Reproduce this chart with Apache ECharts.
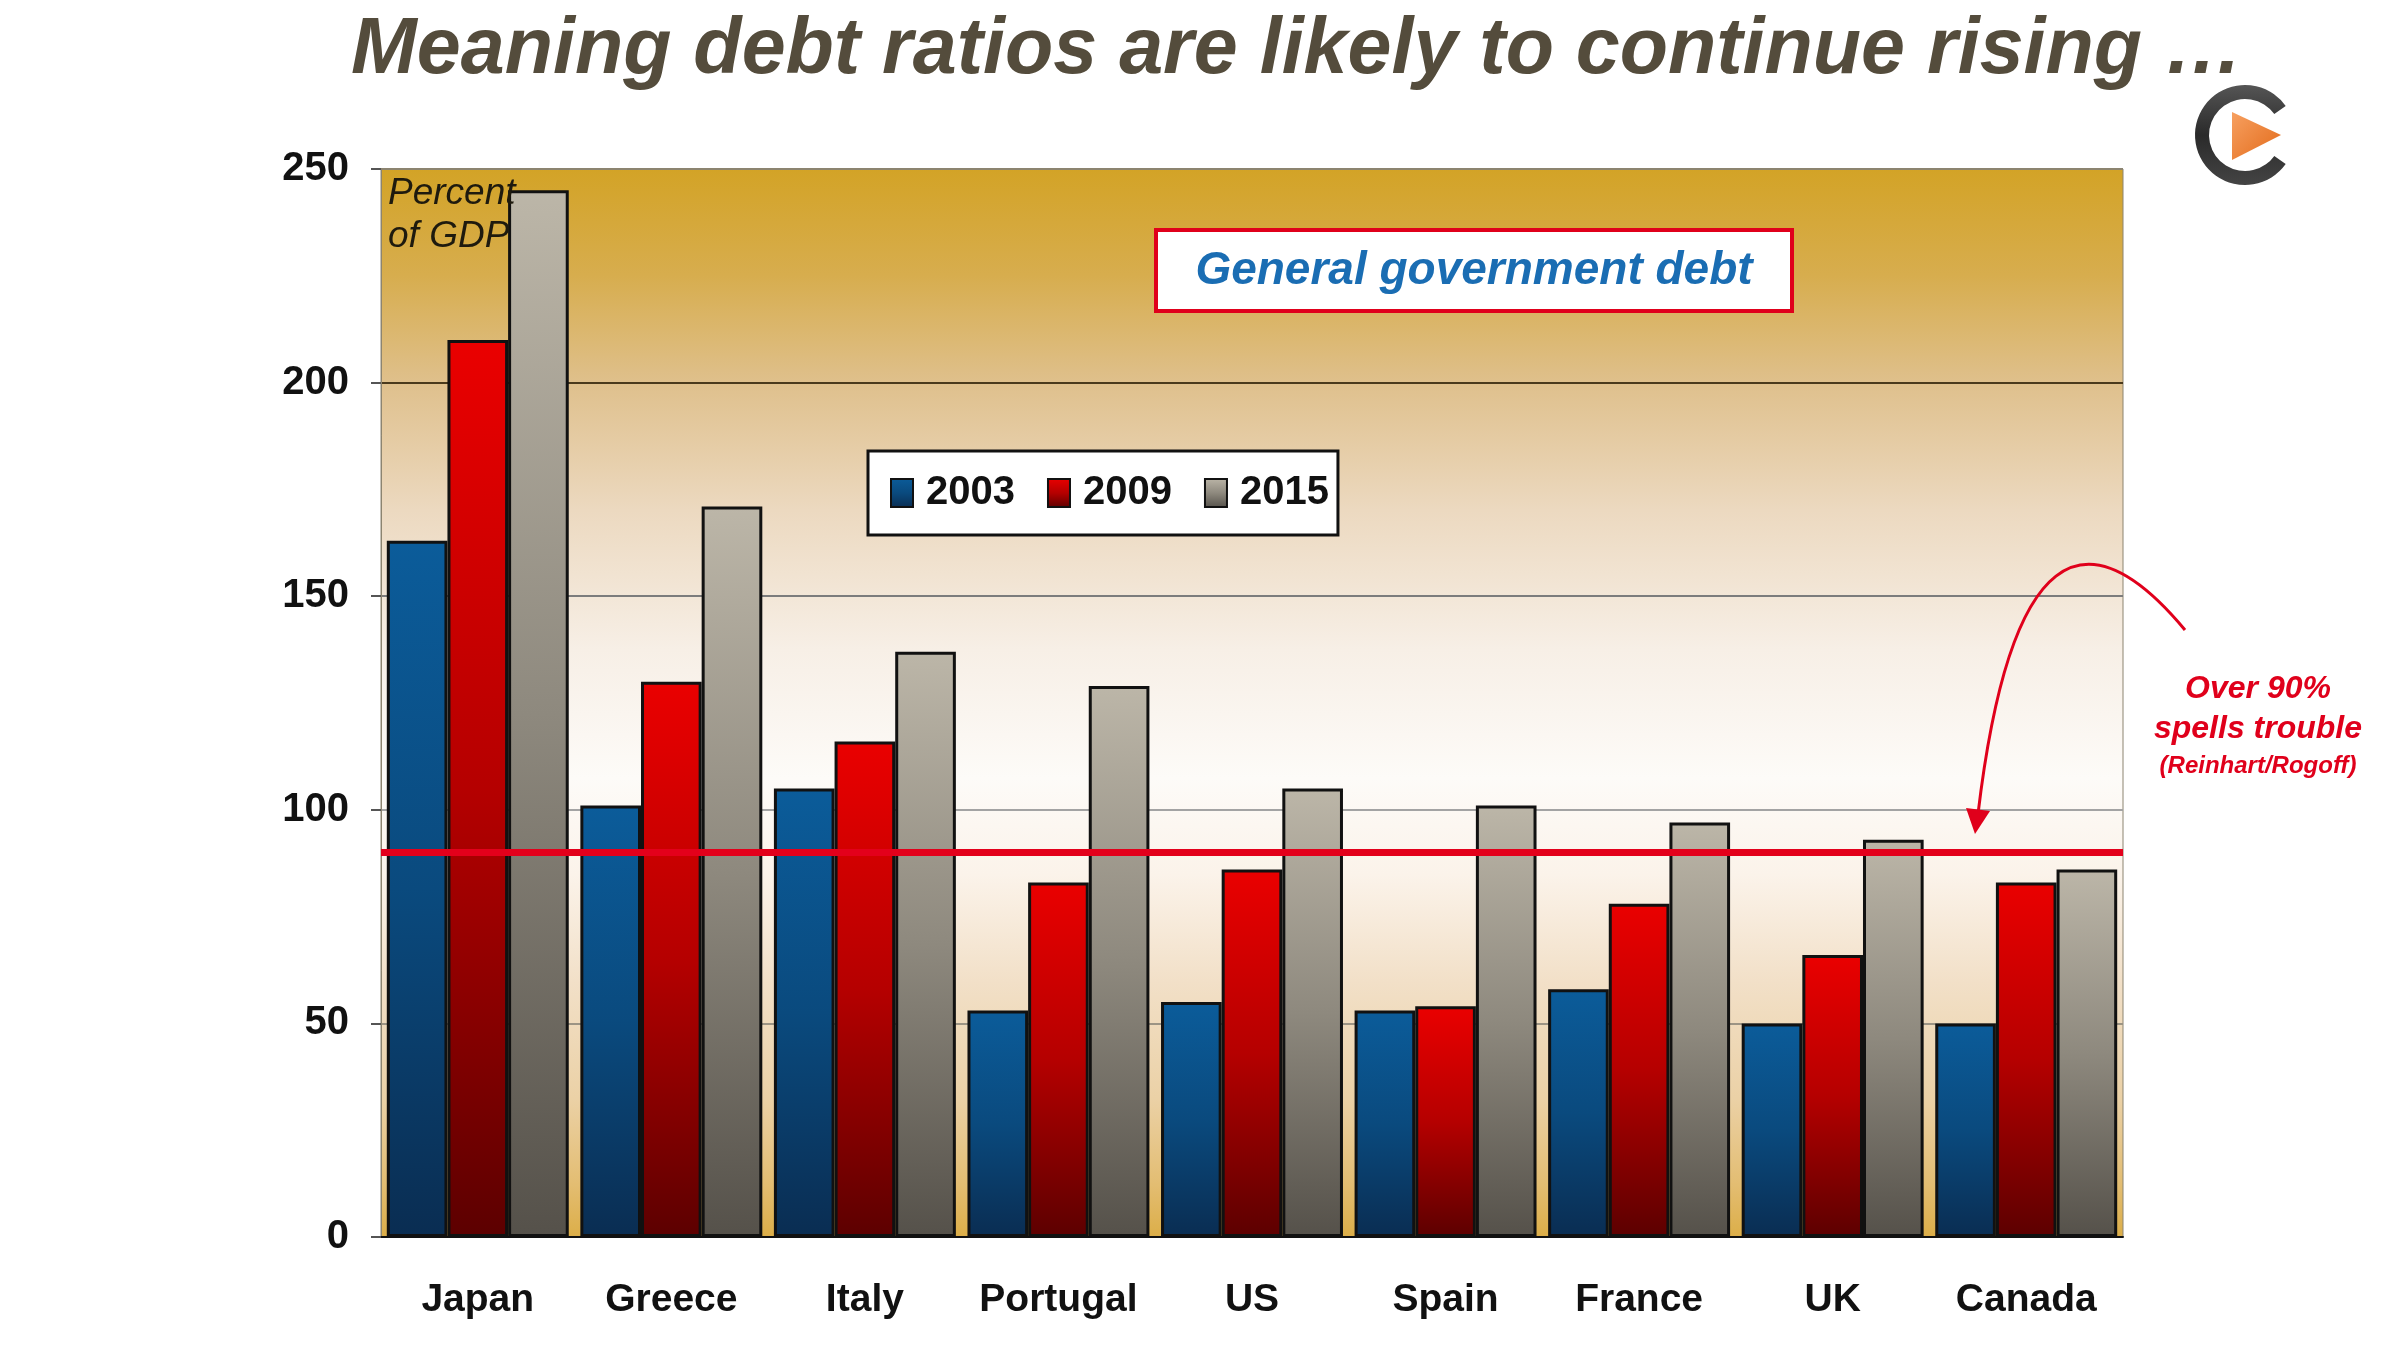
<!DOCTYPE html>
<html>
<head>
<meta charset="utf-8">
<script src="https://cdn.jsdelivr.net/npm/echarts@6/dist/echarts.min.js"></script>
<style>
html,body{margin:0;padding:0;background:#fff;}
#chart{width:2400px;height:1350px;}
</style>
</head>
<body>
<div id="chart"></div>
<script>
// ---- data ----
const countries = ['Japan', 'Greece', 'Italy', 'Portugal', 'US', 'Spain', 'France', 'UK', 'Canada'];
const years = ['2003', '2009', '2015'];
const debt2003 = [163, 101, 105, 53, 55, 53, 58, 50, 50];
const debt2009 = [210, 130, 116, 83, 86, 54, 78, 66, 83];
const debt2015 = [245, 171, 137, 129, 105, 101, 97, 93, 86];
const yTicks = [0, 50, 100, 150, 200, 250];
const thresholdValue = 90;
const titleText = 'Meaning debt ratios are likely to continue rising \u2026';
const boxText = 'General government debt';
const unitLines = ['Percent', 'of GDP'];
const noteLines = ['Over 90%', 'spells trouble', '(Reinhart/Rogoff)'];

const FONT = '"Liberation Sans", Arial, sans-serif';

function grad(top, mid, bottom) {
  return new echarts.graphic.LinearGradient(0, 0, 0, 1, [
    {offset: 0, color: top}, {offset: 0.5, color: mid}, {offset: 1, color: bottom}
  ]);
}
const seriesColors = [
  grad('#0b5c9a', '#0a4a7e', '#0a2d52'),
  grad('#ea0000', '#b50000', '#5c0000'),
  grad('#bcb6a8', '#8e897e', '#55514a')
];
const seriesData = [debt2003, debt2009, debt2015];

const chart = echarts.init(document.getElementById('chart'), null, {renderer: 'canvas'});

const series = years.map((y, i) => ({
  name: y,
  type: 'bar',
  data: seriesData[i],
  barGap: '0%',
  barCategoryGap: '6%',
  itemStyle: {color: seriesColors[i], borderColor: '#111', borderWidth: 3},
  emphasis: {disabled: true}
}));
series[2].markLine = {
  silent: true,
  symbol: 'none',
  z: 10,
  label: {show: false},
  lineStyle: {color: '#e3001b', width: 7, type: 'solid'},
  data: [{yAxis: thresholdValue}]
};

const option = {
  backgroundColor: '#ffffff',
  animation: false,
  title: {
    text: titleText,
    left: 1292, top: 7, textAlign: 'center',
    textStyle: {fontFamily: FONT, fontSize: 79, fontWeight: 'bold', fontStyle: 'italic', color: '#544c3c'}
  },
  grid: {
    left: 381, right: 277, top: 169, bottom: 113,
    show: true,
    borderColor: '#8c8470', borderWidth: 1,
    backgroundColor: new echarts.graphic.LinearGradient(0, 0, 0, 1, [
      {offset: 0, color: '#d3a326'},
      {offset: 0.1, color: '#d7ad4e'},
      {offset: 0.2, color: '#dfc08c'},
      {offset: 0.32, color: '#ecd9c0'},
      {offset: 0.45, color: '#f7efe6'},
      {offset: 0.57, color: '#fdfbf8'},
      {offset: 0.66, color: '#fbf3ea'},
      {offset: 0.76, color: '#f2e0c8'},
      {offset: 0.87, color: '#ebd1a6'},
      {offset: 0.95, color: '#e3bd72'},
      {offset: 1, color: '#dcae48'}
    ])
  },
  legend: {
    data: years,
    left: 868, top: 451,
    orient: 'horizontal',
    backgroundColor: '#ffffff',
    borderColor: '#111', borderWidth: 3,
    padding: [22, 9, 22, 22],
    itemWidth: 22, itemHeight: 28, itemGap: 32,
    icon: 'rect',
    textStyle: {fontFamily: FONT, fontSize: 40, fontWeight: 'bold', color: '#111', padding: [0, 0, 0, 8]},
    selectedMode: false
  },
  xAxis: {
    type: 'category',
    data: countries,
    axisLine: {lineStyle: {color: '#111', width: 2}},
    axisTick: {show: false},
    axisLabel: {interval: 0, fontFamily: FONT, fontSize: 39, fontWeight: 'bold', color: '#111', margin: 44}
  },
  yAxis: {
    type: 'value',
    min: yTicks[0], max: yTicks[yTicks.length - 1], interval: 50,
    axisLine: {show: true, lineStyle: {color: '#8c8470', width: 1}},
    axisTick: {show: true, length: 10, lineStyle: {color: '#555', width: 2}},
    axisLabel: {fontFamily: FONT, fontSize: 40, fontWeight: 'bold', color: '#111', margin: 32},
    splitLine: {show: true, lineStyle: {color: ['#888', '#9c9484', '#a3a3a3', '#7c7c7c', '#4a3a1c', '#8c8470'], width: 2}}
  },
  series: series,
  graphic: [
    // unit label
    {type: 'text', left: 388, top: 172, z: 20,
     style: {text: unitLines.join('\n'), font: 'italic 37px ' + FONT, fill: '#1e1a0e', lineHeight: 43}},
    // chart box title
    {type: 'group', left: 1154, top: 228, z: 20, children: [
      {type: 'rect', shape: {x: 0, y: 0, width: 636, height: 81},
       style: {fill: '#ffffff', stroke: '#e0001b', lineWidth: 4}},
      {type: 'text', x: 318, y: 41,
       style: {text: boxText, font: 'italic bold 46px ' + FONT, fill: '#1a6db3', align: 'center', verticalAlign: 'middle'}}
    ]},
    // annotation text
    {type: 'text', x: 2258, y: 689, z: 20,
     style: {text: noteLines[0], font: 'italic bold 32px ' + FONT, fill: '#e0001b', align: 'center', verticalAlign: 'middle'}},
    {type: 'text', x: 2258, y: 729, z: 20,
     style: {text: noteLines[1], font: 'italic bold 32px ' + FONT, fill: '#e0001b', align: 'center', verticalAlign: 'middle'}},
    {type: 'text', x: 2258, y: 766, z: 20,
     style: {text: noteLines[2], font: 'italic bold 24px ' + FONT, fill: '#e0001b', align: 'center', verticalAlign: 'middle'}},
    // curved arrow
    {type: 'bezierCurve', z: 20,
     shape: {x1: 2185, y1: 630, cpx1: 2085, cpy1: 510, cpx2: 2010, cpy2: 545, x2: 1978, y2: 814},
     style: {stroke: '#e0001b', lineWidth: 3, fill: null}},
    {type: 'polygon', z: 20,
     shape: {points: [[1966, 808], [1990, 811], [1975, 834]]},
     style: {fill: '#e0001b'}},
    // logo
    {type: 'sector', z: 20,
     shape: {cx: 2245, cy: 135, r0: 36, r: 50, startAngle: 0.62, endAngle: Math.PI * 2 - 0.62, clockwise: true},
     style: {fill: new echarts.graphic.LinearGradient(0, 0, 0, 1, [
       {offset: 0, color: '#555'}, {offset: 0.5, color: '#2a2a2a'}, {offset: 1, color: '#444'}])}},
    {type: 'polygon', z: 20,
     shape: {points: [[2232, 112], [2232, 160], [2281, 135]]},
     style: {fill: new echarts.graphic.LinearGradient(0, 0, 1, 1, [
       {offset: 0, color: '#f7a060'}, {offset: 1, color: '#e26a1a'}])}}
  ]
};
chart.setOption(option);
</script>
</body>
</html>
